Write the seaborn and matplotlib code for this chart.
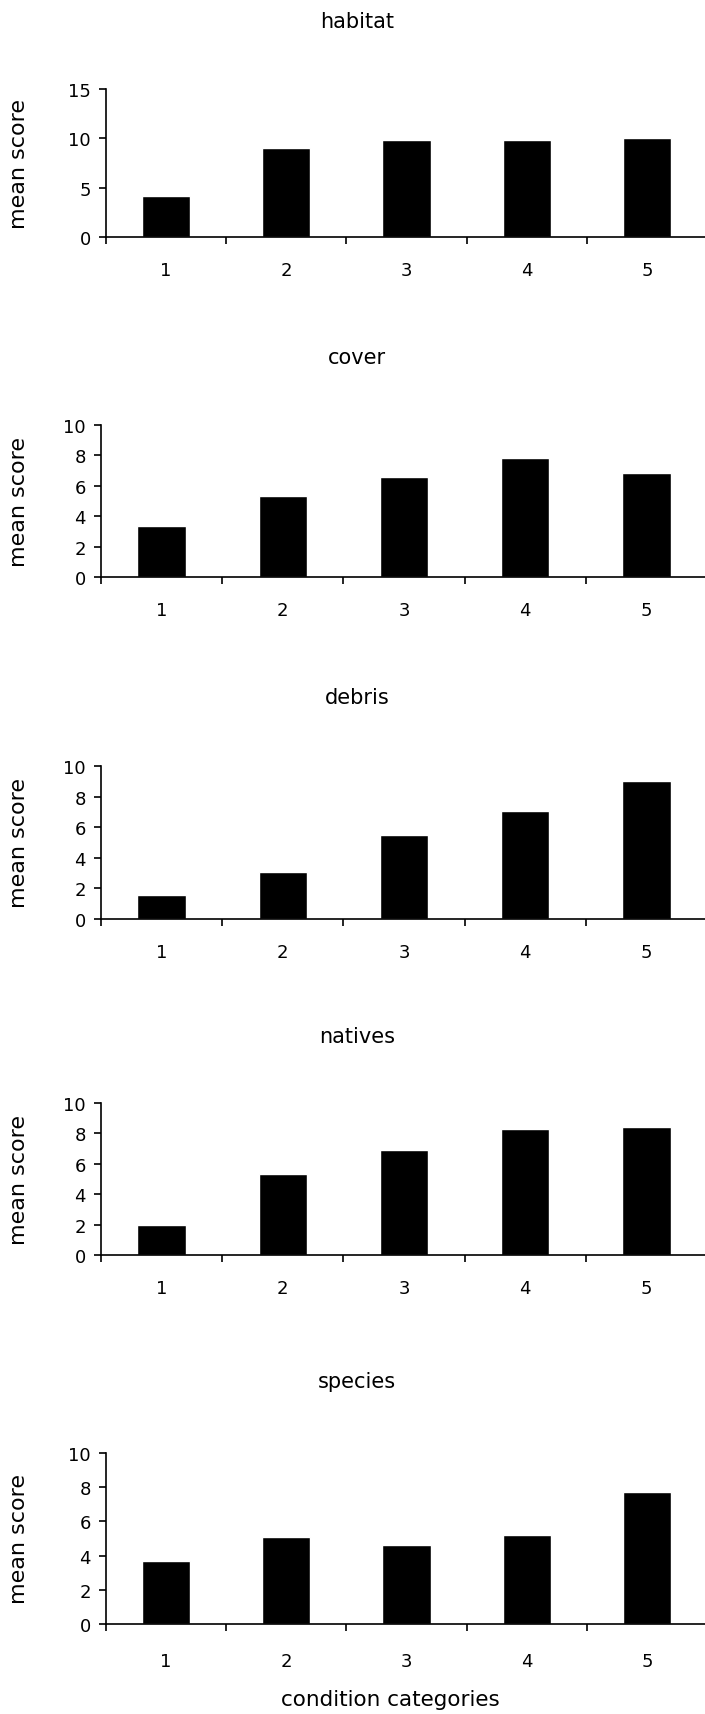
import matplotlib
matplotlib.use("Agg")
import numpy as np
import pandas as pd
import seaborn as sns
import matplotlib.pyplot as plt
from matplotlib.ticker import FixedLocator
from matplotlib.transforms import blended_transform_factory

# -----------------------------
# data
# -----------------------------
categories = ["1", "2", "3", "4", "5"]
habitat = [4.15, 9.0, 9.8, 9.8, 10.0]
cover = [3.35, 5.3, 6.6, 7.8, 6.85]
debris = [1.6, 3.05, 5.5, 7.05, 9.0]
natives = [2.0, 5.3, 6.9, 8.3, 8.45]
species = [3.7, 5.1, 4.6, 5.2, 7.7]

panel_titles = ["habitat", "cover", "debris", "natives", "species"]
panel_values = [habitat, cover, debris, natives, species]
y_max = [15, 10, 10, 10, 10]
y_step = [5, 2, 2, 2, 2]

sns.set_theme(style="white")
plt.rcParams['font.family'] = ['DejaVu Sans']
plt.rcParams['text.color'] = 'black'
plt.rcParams['axes.labelcolor'] = 'black'
plt.rcParams['xtick.color'] = 'black'
plt.rcParams['ytick.color'] = 'black'

W, H = 705, 1715
fig = plt.figure(figsize=(W / 100, H / 100), dpi=100)

# pixel layout: axis left, axis top, zero line, title centre, x label pad
layout = [
    (106, 90, 238, 22, 17),
    (101, 426, 578, 358, 17),
    (101, 767, 920, 698, 17),
    (101, 1104, 1256, 1037, 17),
    (106, 1454, 1625, 1382, 20),
]

for i, (title, vals) in enumerate(zip(panel_titles, panel_values)):
    left, top, zero, ty, xpad = layout[i]
    ax = fig.add_axes([left / W, (H - zero) / H, (707 - left) / W, (zero - top) / H])
    df = pd.DataFrame({"category": categories, "mean score": vals})
    sns.barplot(data=df, x="category", y="mean score", color="black",
                width=0.4, saturation=1, ax=ax)

    ax.set_xlim(-0.5, 4.5)
    ax.set_ylim(0, y_max[i])
    ax.set_yticks(np.arange(0, y_max[i] + 1, y_step[i]))
    sns.despine(ax=ax)
    for s in ("left", "bottom"):
        ax.spines[s].set_color("black")
        ax.spines[s].set_linewidth(1.2)

    ax.tick_params(axis="y", direction="out", length=5, width=1.2, pad=6,
                   labelsize=13, left=True)
    ax.tick_params(axis="x", which="major", length=0, pad=xpad, labelsize=13)
    ax.xaxis.set_minor_locator(FixedLocator(np.arange(-0.5, 4.0, 1.0)))
    ax.tick_params(axis="x", which="minor", direction="out", length=5,
                   width=1.2, bottom=True)

    ax.set_xlabel("")
    ax.set_ylabel("mean score", fontsize=16)
    ax.yaxis.set_label_coords(29 / W, 0.5,
                              transform=blended_transform_factory(fig.transFigure, ax.transAxes))

    fig.text(357 / W, 1 - ty / H, title, ha="center", va="center", fontsize=15)

    if i == len(panel_titles) - 1:
        ax.set_xlabel("condition categories", fontsize=15.5)
        ax.xaxis.set_label_coords(390 / W, 1 - 1690 / H, transform=fig.transFigure)

fig.savefig("out.png", dpi=100)
